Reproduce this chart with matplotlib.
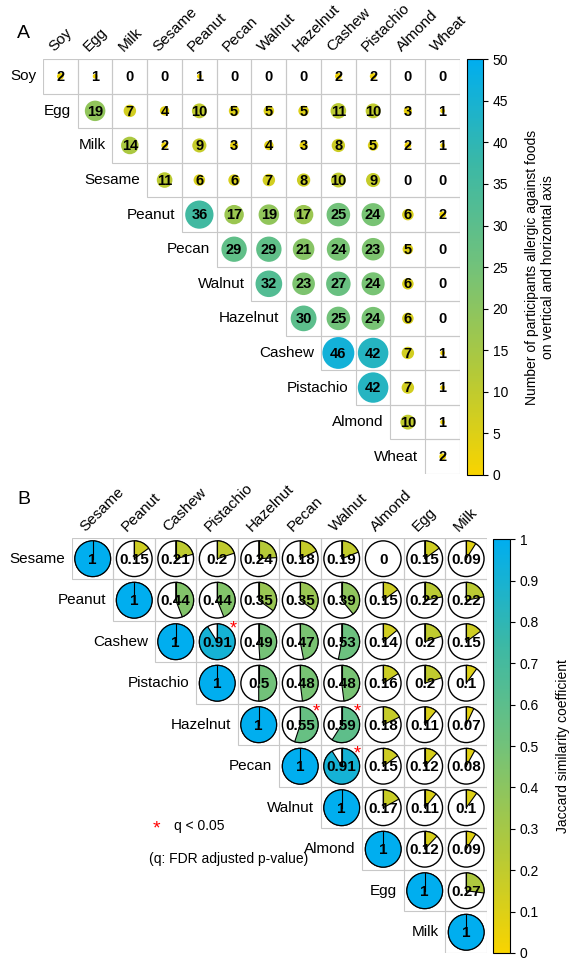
import numpy as np
import matplotlib
matplotlib.use("Agg")
import matplotlib.pyplot as plt
from matplotlib.patches import Circle, Rectangle, Wedge
from matplotlib.colors import LinearSegmentedColormap, Normalize
from matplotlib.cm import ScalarMappable

plt.rcParams['font.family'] = ['Liberation Sans', 'DejaVu Sans']

# panel A: co-allergy counts (upper triangle, row by row)
foods_a = ['Soy', 'Egg', 'Milk', 'Sesame', 'Peanut', 'Pecan', 'Walnut',
           'Hazelnut', 'Cashew', 'Pistachio', 'Almond', 'Wheat']
counts_a = [
    [2, 1, 0, 0, 1, 0, 0, 0, 2, 2, 0, 0],
    [19, 7, 4, 10, 5, 5, 5, 11, 10, 3, 1],
    [14, 2, 9, 3, 4, 3, 8, 5, 2, 1],
    [11, 6, 6, 7, 8, 10, 9, 0, 0],
    [36, 17, 19, 17, 25, 24, 6, 2],
    [29, 29, 21, 24, 23, 5, 0],
    [32, 23, 27, 24, 6, 0],
    [30, 25, 24, 6, 0],
    [46, 42, 7, 1],
    [42, 7, 1],
    [10, 1],
    [2],
]

# panel B: Jaccard similarity (upper triangle, row by row)
foods_b = ['Sesame', 'Peanut', 'Cashew', 'Pistachio', 'Hazelnut', 'Pecan',
           'Walnut', 'Almond', 'Egg', 'Milk']
jaccard_b = [
    [1, 0.15, 0.21, 0.2, 0.24, 0.18, 0.19, 0, 0.15, 0.09],
    [1, 0.44, 0.44, 0.35, 0.35, 0.39, 0.15, 0.22, 0.22],
    [1, 0.91, 0.49, 0.47, 0.53, 0.14, 0.2, 0.15],
    [1, 0.5, 0.48, 0.48, 0.16, 0.2, 0.1],
    [1, 0.55, 0.59, 0.18, 0.11, 0.07],
    [1, 0.91, 0.15, 0.12, 0.08],
    [1, 0.17, 0.11, 0.1],
    [1, 0.12, 0.09],
    [1, 0.27],
    [1],
]
# significant pairs (row, col) with q < 0.05
signif_b = [(2, 3), (4, 5), (4, 6), (5, 6)]

cmap = LinearSegmentedColormap.from_list(
    'ygb', ['#F8D400', '#B2C93A', '#72C27A', '#3BB8A6', '#00AEEF'])

fig = plt.figure(figsize=(5.70, 9.67), dpi=100)

# ---------------- panel A
axA = fig.add_axes([0.0754, 0.5098, 0.7316, 0.4292])
nA = len(foods_a)
normA = Normalize(0, 50)
for i, row in enumerate(counts_a):
    for k, v in enumerate(row):
        j = i + k
        axA.add_patch(Rectangle((j, i), 1, 1, fill=False, ec='#c8c8c8', lw=0.8))
        if v > 0:
            r = 0.46 * np.sqrt(v / 46)
            axA.add_patch(Circle((j + 0.5, i + 0.5), r, color=cmap(float(normA(v))), lw=0))
        axA.text(j + 0.5, i + 0.52, str(v), ha='center', va='center',
                 fontsize=10.5, fontweight='bold')
    axA.text(i - 0.2, i + 0.5, foods_a[i], ha='right', va='center', fontsize=11)
for j, f in enumerate(foods_a):
    axA.text(j + 0.38, -0.15, f, rotation=45, rotation_mode='anchor',
             ha='left', va='bottom', fontsize=11, clip_on=False)
axA.set_xlim(0, nA)
axA.set_ylim(nA, 0)
axA.axis('off')
fig.text(0.03, 0.965, 'A', fontsize=14, va='center')

caxA = fig.add_axes([0.8193, 0.5088, 0.028, 0.430])
cbA = fig.colorbar(ScalarMappable(normA, cmap), cax=caxA, ticks=np.arange(0, 51, 5))
cbA.ax.tick_params(labelsize=10)
cbA.set_label('Number of participants allergic against foods\non vertical and horizontal axis',
              fontsize=10, labelpad=12)

# ---------------- panel B
axB = fig.add_axes([0.1263, 0.01448, 0.728, 0.4292])
nB = len(foods_b)
rad = 0.43
for i, row in enumerate(jaccard_b):
    for k, v in enumerate(row):
        j = i + k
        cx, cy = j + 0.5, i + 0.5
        axB.add_patch(Rectangle((j, i), 1, 1, fill=False, ec='#c8c8c8', lw=0.8))
        axB.add_patch(Circle((cx, cy), rad, fc='white', ec='black', lw=1.0))
        if v > 0:
            # wedge clockwise from 12 o'clock (y axis is inverted)
            axB.add_patch(Wedge((cx, cy), rad, 270, 270 + 360 * v,
                                fc=cmap(float(v)), ec='black', lw=0.8))
            axB.plot([cx, cx], [cy, cy - rad], color='black', lw=0.8)
        axB.text(cx, cy + 0.03, f'{v:g}', ha='center', va='center',
                 fontsize=11, fontweight='bold')
    axB.text(i - 0.17, i + 0.5, foods_b[i], ha='right', va='center', fontsize=11)
for (i, j) in signif_b:
    axB.text(j + 0.88, i + 0.2, '*', color='red', ha='center', va='center', fontsize=13)
for j, f in enumerate(foods_b):
    axB.text(j + 0.38, -0.1, f, rotation=45, rotation_mode='anchor',
             ha='left', va='bottom', fontsize=11, clip_on=False)
axB.set_xlim(0, nB)
axB.set_ylim(nB, 0)
axB.axis('off')
fig.text(0.03, 0.483, 'B', fontsize=14, va='center')

fig.text(0.268, 0.143, '*', color='red', fontsize=14, ha='left', va='center')
fig.text(0.305, 0.146, 'q < 0.05', fontsize=10, ha='left', va='center')
fig.text(0.262, 0.112, '(q: FDR adjusted p-value)', fontsize=10, ha='left', va='center')

caxB = fig.add_axes([0.8649, 0.01448, 0.0298, 0.428])
cbB = fig.colorbar(ScalarMappable(Normalize(0, 1), cmap), cax=caxB,
                   ticks=np.round(np.arange(0, 1.01, 0.1), 1))
cbB.ax.set_yticklabels(['0', '0.1', '0.2', '0.3', '0.4', '0.5', '0.6', '0.7', '0.8', '0.9', '1'])
cbB.ax.tick_params(labelsize=10)
cbB.set_label('Jaccard similarity coefficient', fontsize=10, labelpad=12)

fig.savefig('out.png', dpi=100)
